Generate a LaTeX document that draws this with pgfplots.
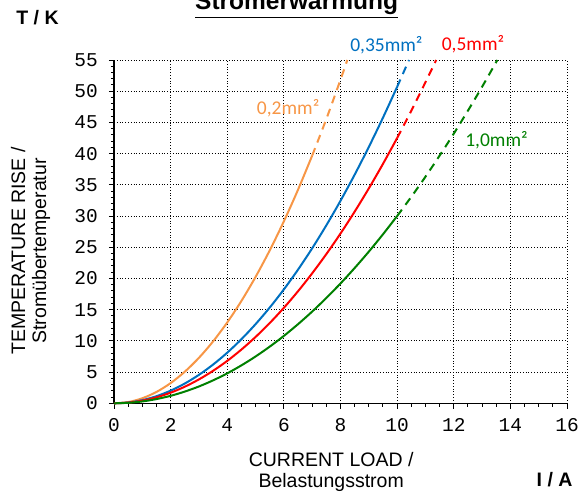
\documentclass[border=0pt]{standalone}
\usepackage{pgfplots}
\pgfplotsset{compat=1.18}
\usepackage{fontspec}
\setmainfont{Liberation Sans}
\setmonofont{Liberation Mono}
\newfontfamily\calib{Carlito}

\definecolor{cOrange}{HTML}{F79646}
\definecolor{cBlue}{HTML}{0070C0}
\definecolor{cRed}{HTML}{FF0000}
\definecolor{cGreen}{HTML}{008000}

\begin{document}
\fontsize{9.75}{10.5}\selectfont
\begin{tikzpicture}
\begin{axis}[
  name=ax,
  scale only axis,
  width=226.5pt, height=171.65pt,
  xmin=0, xmax=16, ymin=0, ymax=55,
  xtick={0,2,...,16}, ytick={0,5,...,55},
  minor x tick num=3, minor y tick num=4,
  axis x line=bottom, axis y line=left,
  axis line style={-, black, line width=0.6pt},
  tick align=outside,
  major tick length=2.6pt, minor tick length=1.6pt,
  tick style={black, line width=0.5pt},
  grid=major,
  major grid style={densely dotted, black, line width=0.5pt},
  /pgf/number format/assume math mode=true,
  ticklabel style={font=\fontsize{9.75}{10.5}\ttfamily},
  yticklabel style={xshift=-2pt},
  xticklabel style={yshift=-1.5pt},
  clip=false,
  every axis plot/.append style={line width=1pt, smooth},
]
% 0,2 mm2
\addplot[cOrange] coordinates {
  (0,0)(0.5,0.20)(1,0.81)(1.5,1.82)(2,3.24)(2.5,5.06)(3,7.29)(3.5,9.92)
  (4,12.96)(4.5,16.40)(5,20.25)(5.5,24.50)(6,29.16)(6.5,34.22)(7,39.69)
};
\addplot[cOrange, dash pattern=on 4pt off 3pt] coordinates {
  (7,39.69)(7.5,45.56)(8,51.84)(8.24,55.0)
};
% 0,35 mm2
\addplot[cBlue] coordinates {
  (0,0)(0.5,0.13)(1,0.51)(1.5,1.14)(2,2.03)(2.5,3.17)(3,4.56)(3.5,6.21)
  (4,8.11)(4.5,10.27)(5,12.68)(5.5,15.34)(6,18.25)(6.5,21.42)(7,24.84)
  (7.5,28.52)(8,32.45)(8.5,36.63)(9,41.07)(9.5,45.76)(10,50.70)
};
\addplot[cBlue, dash pattern=on 4pt off 3pt] coordinates {
  (10,50.70)(10.2,52.75)(10.42,55.0)
};
% 0,5 mm2
\addplot[cRed] coordinates {
  (0,0)(0.5,0.11)(1,0.43)(1.5,0.96)(2,1.70)(2.5,2.66)(3,3.83)(3.5,5.21)
  (4,6.80)(4.5,8.61)(5,10.63)(5.5,12.86)(6,15.30)(6.5,17.96)(7,20.83)
  (7.5,23.91)(8,27.20)(8.5,30.71)(9,34.43)(9.5,38.36)(10,42.50)
};
\addplot[cRed, dash pattern=on 4pt off 3pt] coordinates {
  (10,42.50)(10.5,46.86)(11,51.43)(11.38,55.0)
};
% 1,0 mm2
\addplot[cGreen] coordinates {
  (0,0)(0.5,0.08)(1,0.30)(1.5,0.68)(2,1.20)(2.5,1.88)(3,2.70)(3.5,3.68)
  (4,4.80)(4.5,6.08)(5,7.50)(5.5,9.08)(6,10.80)(6.5,12.68)(7,14.70)
  (7.5,16.88)(8,19.20)(8.5,21.68)(9,24.30)(9.5,27.08)(10,30.00)
};
\addplot[cGreen, dash pattern=on 4pt off 3pt] coordinates {
  (10,30.00)(10.5,33.08)(11,36.30)(11.5,39.68)(12,43.20)(12.5,46.88)(13,50.70)(13.54,55.0)
};

\node[cBlue, font=\calib] at (axis cs:9.62,57.4) {0,35mm²};
\node[cRed, font=\calib] at (axis cs:12.68,57.6) {0,5mm²};
\node[cOrange, font=\calib] at (axis cs:6.15,47.3) {0,2mm²};
\node[cGreen, font=\calib] at (axis cs:13.51,42.1) {1,0mm²};

\node[font=\bfseries] at (axis cs:-2.70,61.8) {T / K};
\node[font=\fontsize{12.25}{14}\selectfont\bfseries, anchor=base] at (axis cs:6.45,63.09) {\underline{Stromerwärmung}};
\node[rotate=90, align=center] at (axis cs:-2.95,24.4) {TEMPERATURE RISE /\\Stromübertemperatur};
\node[align=center] at (axis cs:7.67,-11.0) {CURRENT LOAD /\\Belastungsstrom};
\node[font=\bfseries] at (axis cs:15.56,-12.3) {I / A};
\end{axis}
\pgfresetboundingbox
\path[use as bounding box] ([shift={(-57pt,-47.85pt)}]ax.south west) rectangle ([shift={(7pt,30pt)}]ax.north east);
\end{tikzpicture}
\end{document}
